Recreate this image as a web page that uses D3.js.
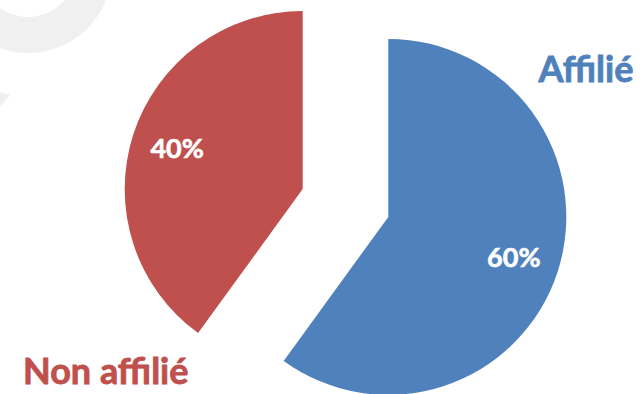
<!DOCTYPE html>
<html>
<head>
<meta charset="utf-8">
<script src="https://cdn.jsdelivr.net/npm/d3@7"></script>
<style>
  html, body { margin: 0; padding: 0; background: #fff; }
  svg { display: block; font-family: Lato, "Open Sans", sans-serif; }
</style>
</head>
<body>
<div id="chart"></div>
<script>
// chart data
const categories = ["Affilié", "Non affilié"];
const values = [60, 40];
const pctLabels = ["60%", "40%"];
const colors = ["#4F81BD", "#C0504D"];

const width = 644, height = 394;
const cx = 345.5, cy = 203;   // pie centre before explode
const radius = 178;
const explode = 45;

const svg = d3.select("#chart")
    .append("svg")
    .attr("width", width)
    .attr("height", height);

// faint watermark in the corner
const wm = svg.append("g").attr("fill", "#f0f0f0");
wm.append("path")
    .attr("transform", "translate(28,-31)")
    .attr("d", d3.arc()({ innerRadius: 48, outerRadius: 84, startAngle: 0, endAngle: 2 * Math.PI }));
wm.append("path").attr("d", "M0,92 L10,95 L0,107 Z");

const pie = d3.pie().sort(null).value(d => d)(values);
const arc = d3.arc().innerRadius(0).outerRadius(radius);
const labelArc = d3.arc().innerRadius(132).outerRadius(132);

const slices = svg.append("g")
    .attr("transform", `translate(${cx},${cy})`)
    .selectAll("g")
    .data(pie)
    .enter()
    .append("g")
    .attr("transform", d => {
        const a = (d.startAngle + d.endAngle) / 2;
        return `translate(${explode * Math.sin(a)},${-explode * Math.cos(a)})`;
    });

slices.append("path")
    .attr("d", arc)
    .attr("fill", (d, i) => colors[i]);

// percent labels (thin stroke to get a heavier bold)
slices.append("text")
    .attr("transform", d => `translate(${labelArc.centroid(d)})`)
    .attr("text-anchor", "middle")
    .attr("dy", "0.35em")
    .attr("fill", "#fff")
    .attr("stroke", "#fff")
    .attr("stroke-width", 0.6)
    .attr("font-weight", 700)
    .attr("font-size", 27)
    .text((d, i) => pctLabels[i]);

// category labels outside the pie
svg.append("text")
    .attr("x", 586).attr("y", 82)
    .attr("text-anchor", "middle")
    .attr("fill", colors[0])
    .attr("stroke", colors[0])
    .attr("stroke-width", 0.8)
    .attr("font-weight", 700)
    .attr("font-size", 36)
    .text(categories[0]);

svg.append("text")
    .attr("x", 23).attr("y", 384)
    .attr("fill", colors[1])
    .attr("stroke", colors[1])
    .attr("stroke-width", 0.8)
    .attr("font-weight", 700)
    .attr("font-size", 36)
    .text(categories[1]);
</script>
</body>
</html>
